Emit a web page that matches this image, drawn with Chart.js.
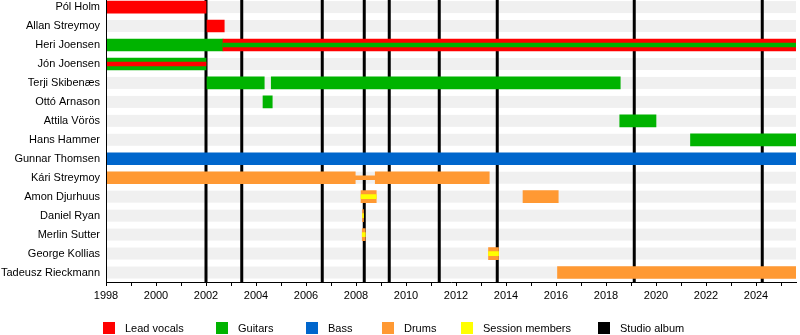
<!DOCTYPE html>
<html>
<head>
<meta charset="utf-8">
<script src="https://cdn.jsdelivr.net/npm/chart.js@4/dist/chart.umd.min.js"></script>
<style>
  html, body { margin: 0; padding: 0; background: #fff; }
  #wrap { position: relative; width: 800px; height: 335px; overflow: hidden; }
  #timeline { position: absolute; left: 0; top: -15px; }
  .key { position: absolute; top: 322px; font: 11px "Liberation Sans", Arial, sans-serif; color: #000; }
  .key span.box { position: absolute; top: 0; width: 12px; height: 12px; }
  .key span.txt { position: absolute; top: -1px; white-space: nowrap; line-height: 14px; }
</style>
</head>
<body>
<div id="wrap">
  <canvas id="timeline" width="800" height="350"></canvas>
  <div id="legend"></div>
</div>
<script>
// band members, top to bottom
const members = ["Pól Holm", "Allan Streymoy", "Heri Joensen", "Jón Joensen", "Terji Skibenæs",
  "Ottó Arnason", "Attila Vörös", "Hans Hammer", "Gunnar Thomsen", "Kári Streymoy",
  "Amon Djurhuus", "Daniel Ryan", "Merlin Sutter", "George Kollias", "Tadeusz Rieckmann"];

const startYear = 1998;
const endYear = 2025.6;

// [member, from, to]
const leadVocals = [
  ["Pól Holm", 1998, 2002.0],
  ["Allan Streymoy", 2002.04, 2002.73],
  ["Heri Joensen", 2002.68, endYear]
];
const guitars = [
  ["Heri Joensen", 1998, 2002.68],
  ["Jón Joensen", 1998, 2002.0],
  ["Terji Skibenæs", 2002.04, 2004.33],
  ["Terji Skibenæs", 2004.61, 2018.57],
  ["Ottó Arnason", 2004.28, 2004.65],
  ["Attila Vörös", 2018.55, 2020.0],
  ["Hans Hammer", 2021.38, endYear]
];
const bass = [
  ["Gunnar Thomsen", 1998, endYear]
];
const drums = [
  ["Kári Streymoy", 1998, 2007.97],
  ["Kári Streymoy", 2008.77, 2013.33],
  ["Amon Djurhuus", 2008.2, 2008.81],
  ["Amon Djurhuus", 2014.68, 2016.09],
  ["Daniel Ryan", 2008.26, 2008.3],
  ["Merlin Sutter", 2008.25, 2008.37],
  ["George Kollias", 2013.3, 2013.7],
  ["Tadeusz Rieckmann", 2016.06, endYear]
];
// secondary roles, drawn as a thin stripe inside the main bar
const vocalsInner = [
  ["Jón Joensen", 1998, 2002.0]
];
const guitarsInner = [
  ["Heri Joensen", 2002.68, endYear]
];
const drumsThin = [
  ["Kári Streymoy", 2007.97, 2008.77]
];
const sessionInner = [
  ["Amon Djurhuus", 2008.2, 2008.81],
  ["Daniel Ryan", 2008.26, 2008.3],
  ["Merlin Sutter", 2008.25, 2008.37],
  ["George Kollias", 2013.3, 2013.7]
];

const studioAlbums = [2002.0, 2003.43, 2006.65, 2008.33, 2009.33, 2011.33, 2013.65, 2019.13, 2024.25];

const legendNames = ["Lead vocals", "Guitars", "Bass", "Drums", "Session members", "Studio album"];
const legendColors = ["#ff0000", "#00b300", "#0066cc", "#ff9933", "#ffff00", "#000000"];
const legendLeft = [103, 216, 306, 382, 461, 598];

const FONT = "'Liberation Sans', Arial, sans-serif";

function spans(list, color, thickness, order) {
  return {
    data: list.map(r => ({ x: [r[1], r[2]], y: r[0] })),
    backgroundColor: color,
    barThickness: thickness,
    grouped: false,
    borderWidth: 0,
    order: order
  };
}

// light grey row bands and album markers under the bars
const backdrop = {
  id: "backdrop",
  beforeDatasetsDraw(chart) {
    const { ctx, chartArea: a, scales: { x, y } } = chart;
    ctx.save();
    ctx.fillStyle = "#f0f0f0";
    members.forEach((m, i) => {
      const py = y.getPixelForValue(i);
      ctx.fillRect(a.left, py - 6, a.right - a.left, 12);
    });
    ctx.fillStyle = "#000";
    studioAlbums.forEach(v => {
      const px = x.getPixelForValue(v);
      ctx.fillRect(px - 1.5, a.top, 3, a.bottom - a.top);
    });
    ctx.restore();
  }
};

new Chart(document.getElementById("timeline"), {
  type: "bar",
  data: {
    labels: members,
    datasets: [
      spans(leadVocals, "#ff0000", 12, 5),
      spans(guitars, "#00b300", 12, 5),
      spans(bass, "#0066cc", 12, 5),
      spans(drums, "#ff9933", 12, 5),
      spans(drumsThin, "#ff9933", 4, 4),
      spans(vocalsInner, "#ff0000", 4, 1),
      spans(guitarsInner, "#00b300", 4, 1),
      spans(sessionInner, "#ffff00", 4, 1)
    ]
  },
  options: {
    indexAxis: "y",
    responsive: false,
    animation: false,
    layout: { padding: { top: 0, left: 0, right: 4, bottom: 23 } },
    plugins: {
      legend: { display: false },
      tooltip: { enabled: false }
    },
    scales: {
      x: {
        type: "linear",
        min: startYear,
        max: endYear,
        afterFit(scale) { scale.height = 30; },
        grid: { drawOnChartArea: false, tickLength: 4, color: "#000", tickColor: "#000" },
        border: { display: true, color: "#000", z: 1 },
        ticks: {
          stepSize: 1,
          includeBounds: false,
          autoSkip: false,
          maxRotation: 0,
          padding: 3,
          color: "#000",
          font: { family: FONT, size: 11 },
          callback: v => (Number.isInteger(v) && v % 2 === 0) ? String(v) : ""
        }
      },
      y: {
        type: "category",
        offset: true,
        afterFit(scale) { scale.width = 106; },
        grid: { display: false, drawTicks: false },
        border: { display: true, color: "#000", z: 1 },
        ticks: {
          padding: 6,
          color: "#000",
          font: { family: FONT, size: 11 }
        }
      }
    }
  },
  plugins: [backdrop]
});

// key along the bottom
const legend = document.getElementById("legend");
legendNames.forEach((name, i) => {
  const item = document.createElement("div");
  item.className = "key";
  item.style.left = legendLeft[i] + "px";
  item.innerHTML = '<span class="box" style="left:0;background:' + legendColors[i] + '"></span>' +
    '<span class="txt" style="left:22px">' + name + '</span>';
  legend.appendChild(item);
});
</script>
</body>
</html>
